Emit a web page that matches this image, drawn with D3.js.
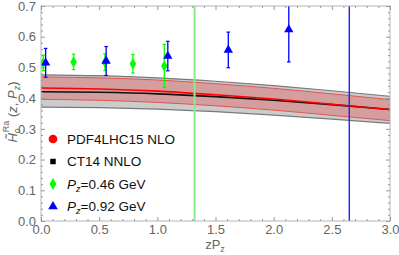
<html>
<head>
<script src="https://cdn.jsdelivr.net/npm/d3@7"></script>
<style>
  body { margin: 0; background: white; }
  text { font-family: "Liberation Sans", Arial, sans-serif; }
</style>
</head>
<body>
<div id="chart"></div>
<script>
// band curves, sampled along zP_z
var bandZ      = [0, 0.5, 1.0, 1.5, 2.0, 2.5, 3.0];
var ctCentral  = [0.421, 0.419, 0.414, 0.405, 0.393, 0.379, 0.363];
var ctHigh     = [0.476, 0.473, 0.466, 0.455, 0.441, 0.424, 0.406];
var ctLow      = [0.371, 0.369, 0.364, 0.356, 0.345, 0.332, 0.318];
var pdfCentral = [0.433, 0.430, 0.423, 0.411, 0.397, 0.380, 0.363];
var pdfHigh    = [0.469, 0.466, 0.459, 0.447, 0.432, 0.414, 0.395];
var pdfLow     = [0.396, 0.393, 0.386, 0.375, 0.361, 0.344, 0.327];

// lattice points
var p046Z   = [0.02, 0.28, 0.55, 0.79, 1.06];
var p046H   = [0.515, 0.518, 0.517, 0.512, 0.505];
var p046Err = [0.025, 0.025, 0.027, 0.03, 0.07];
var p092Z   = [0.04, 0.56, 1.09, 1.61, 2.13];
var p092H   = [0.515, 0.521, 0.537, 0.557, 0.623];
var p092Err = [0.047, 0.047, 0.048, 0.058, 0.105];

var vLines = [ { z: 1.32, color: "#86ee86", w: 2 }, { z: 2.65, color: "#1f1fff", w: 1.4 } ];

var xMajor = [0, 0.5, 1.0, 1.5, 2.0, 2.5, 3.0];
var yMajor = [0, 0.1, 0.2, 0.3, 0.4, 0.5, 0.6, 0.7];

var legendItems = [
	{ label: "PDF4LHC15 NLO", color: "#ff0000", shape: "circle" },
	{ label: "CT14 NNLO", color: "#000000", shape: "square" },
	{ label: "=0.46 GeV", color: "#00ff00", shape: "diamond", pz: true },
	{ label: "=0.92 GeV", color: "#0000ff", shape: "triangle", pz: true }
];

var W = 399, H = 255;
var m = { left: 41, right: 9, top: 6, bottom: 34 };

var svg = d3.select("#chart").append("svg")
	.attr("width", W).attr("height", H);

var x = d3.scaleLinear().domain([0, 3]).range([m.left, W - m.right]);
var y = d3.scaleLinear().domain([0, 0.7]).range([H - m.bottom, m.top]);

svg.append("clipPath").attr("id", "clip").append("rect")
	.attr("x", x(0)).attr("y", y(0.7))
	.attr("width", x(3) - x(0)).attr("height", y(0) - y(0.7));

var plot = svg.append("g").attr("clip-path", "url(#clip)");

var rows = bandZ.map(function(z, i) {
	return { z: z, cc: ctCentral[i], ch: ctHigh[i], cl: ctLow[i],
		pc: pdfCentral[i], ph: pdfHigh[i], pl: pdfLow[i] };
});

function area(lo, hi) {
	return d3.area().curve(d3.curveMonotoneX)
		.x(function(d) { return x(d.z); })
		.y0(function(d) { return y(d[lo]); })
		.y1(function(d) { return y(d[hi]); });
}
function line(k) {
	return d3.line().curve(d3.curveMonotoneX)
		.x(function(d) { return x(d.z); })
		.y(function(d) { return y(d[k]); });
}

// CT14 band
plot.append("path").datum(rows).attr("d", area("cl", "ch"))
	.attr("fill", "#cccccc");
["cl", "ch"].forEach(function(k) {
	plot.append("path").datum(rows).attr("d", line(k))
		.attr("fill", "none").attr("stroke", "#7a7a7a").attr("stroke-width", 1.2);
});
// PDF4LHC band
plot.append("path").datum(rows).attr("d", area("pl", "ph"))
	.attr("fill", "rgba(225,95,95,0.42)");
["pl", "ph"].forEach(function(k) {
	plot.append("path").datum(rows).attr("d", line(k))
		.attr("fill", "none").attr("stroke", "#e05555").attr("stroke-width", 1);
});
plot.append("path").datum(rows).attr("d", line("cc"))
	.attr("fill", "none").attr("stroke", "#111").attr("stroke-width", 1.6);
plot.append("path").datum(rows).attr("d", line("pc"))
	.attr("fill", "none").attr("stroke", "#ff0000").attr("stroke-width", 1.6);

// vertical lines
plot.selectAll(".vline").data(vLines).enter().append("line")
	.attr("x1", function(d) { return x(d.z); })
	.attr("x2", function(d) { return x(d.z); })
	.attr("y1", y(0)).attr("y2", y(0.7))
	.attr("stroke", function(d) { return d.color; })
	.attr("stroke-width", function(d) { return d.w; });

// error bars + markers
function drawSeries(zs, hs, errs, color, sym, size) {
	var data = zs.map(function(z, i) { return { z: z, h: hs[i], e: errs[i] }; });
	var g = plot.append("g");
	g.selectAll(".bar").data(data).enter().append("line")
		.attr("x1", function(d) { return x(d.z); })
		.attr("x2", function(d) { return x(d.z); })
		.attr("y1", function(d) { return y(d.h - d.e); })
		.attr("y2", function(d) { return y(d.h + d.e); })
		.attr("stroke", color).attr("stroke-width", 1.3);
	[-1, 1].forEach(function(s) {
		g.selectAll(".cap").data(data).enter().append("line")
			.attr("x1", function(d) { return x(d.z) - 1.8; })
			.attr("x2", function(d) { return x(d.z) + 1.8; })
			.attr("y1", function(d) { return y(d.h + s * d.e); })
			.attr("y2", function(d) { return y(d.h + s * d.e); })
			.attr("stroke", color).attr("stroke-width", 1.2);
	});
	g.selectAll(".pt").data(data).enter().append("path")
		.attr("transform", function(d) { return "translate(" + x(d.z) + "," + y(d.h) + ")"; })
		.attr("d", d3.symbol().type(sym).size(size))
		.attr("fill", color);
}
drawSeries(p046Z, p046H, p046Err, "#00ff00", d3.symbolDiamond, 38);
drawSeries(p092Z, p092H, p092Err, "#0000ff", d3.symbolTriangle, 38);

// frame
svg.append("rect")
	.attr("x", x(0)).attr("y", y(0.7))
	.attr("width", x(3) - x(0)).attr("height", y(0) - y(0.7))
	.attr("fill", "none").attr("stroke", "#b5b5b5").attr("stroke-width", 1);

var xMinor = d3.range(0, 3.001, 0.1).filter(function(v) { return Math.abs(v * 2 - Math.round(v * 2)) > 1e-6; });
var yMinor = d3.range(0, 0.7001, 0.02).filter(function(v) { return Math.abs(v * 10 - Math.round(v * 10)) > 1e-6; });

function styleAxis(g) {
	g.select(".domain").remove();
	g.selectAll(".tick line").attr("stroke", "#999");
	g.selectAll(".tick text").attr("fill", "#666").attr("font-size", 13);
}

svg.append("g").attr("transform", "translate(0," + y(0) + ")")
	.call(d3.axisBottom(x).tickValues(xMajor).tickSize(-4).tickPadding(4).tickFormat(d3.format(".1f")))
	.call(styleAxis);
svg.append("g").attr("transform", "translate(0," + y(0) + ")")
	.call(d3.axisBottom(x).tickValues(xMinor).tickSize(-2).tickFormat(""))
	.call(styleAxis);
svg.append("g").attr("transform", "translate(0," + y(0.7) + ")")
	.call(d3.axisTop(x).tickValues(xMajor).tickSize(-4).tickFormat(""))
	.call(styleAxis);
svg.append("g").attr("transform", "translate(0," + y(0.7) + ")")
	.call(d3.axisTop(x).tickValues(xMinor).tickSize(-2).tickFormat(""))
	.call(styleAxis);

svg.append("g").attr("transform", "translate(" + x(0) + ",0)")
	.call(d3.axisLeft(y).tickValues(yMajor).tickSize(-4).tickPadding(5).tickFormat(d3.format(".1f")))
	.call(styleAxis);
svg.append("g").attr("transform", "translate(" + x(0) + ",0)")
	.call(d3.axisLeft(y).tickValues(yMinor).tickSize(-2).tickFormat(""))
	.call(styleAxis);
svg.append("g").attr("transform", "translate(" + x(3) + ",0)")
	.call(d3.axisRight(y).tickValues(yMajor).tickSize(-4).tickFormat(""))
	.call(styleAxis);
svg.append("g").attr("transform", "translate(" + x(3) + ",0)")
	.call(d3.axisRight(y).tickValues(yMinor).tickSize(-2).tickFormat(""))
	.call(styleAxis);

// axis titles
var xt = svg.append("text").attr("x", 215).attr("y", 249)
	.attr("text-anchor", "middle").attr("fill", "#666").attr("font-size", 13);
xt.append("tspan").text("zP");
xt.append("tspan").attr("dy", 3).attr("font-size", 9).text("z");

var yt = svg.append("text")
	.attr("transform", "translate(17,112) rotate(-90)")
	.attr("text-anchor", "middle").attr("fill", "#666").attr("font-size", 13);
yt.append("tspan").attr("font-style", "italic").text("H\u0303");
yt.append("tspan").attr("dy", 3).attr("font-size", 9).text("o");
yt.append("tspan").attr("dy", -11).attr("dx", -4).attr("font-size", 9).text("Ra");
yt.append("tspan").attr("dy", 8).text(" (");
yt.append("tspan").attr("font-style", "italic").text("z");
yt.append("tspan").text(", ");
yt.append("tspan").attr("font-style", "italic").text("P");
yt.append("tspan").attr("dy", 3).attr("font-size", 9).attr("font-style", "italic").text("z");
yt.append("tspan").attr("dy", -3).text(")");

// legend
var symMap = { circle: d3.symbolCircle, square: d3.symbolSquare, diamond: d3.symbolDiamond, triangle: d3.symbolTriangle };
var sizeMap = { circle: 60, square: 30, diamond: 40, triangle: 40 };
var leg = svg.selectAll(".legend").data(legendItems).enter().append("g")
	.attr("transform", function(d, i) { return "translate(53," + (139 + i * 22.5) + ")"; });
leg.append("path")
	.attr("d", function(d) { return d3.symbol().type(symMap[d.shape]).size(sizeMap[d.shape])(); })
	.attr("fill", function(d) { return d.color; });
var lt = leg.append("text").attr("x", 14).attr("dy", "0.35em")
	.attr("font-size", 13.5).attr("fill", "#111");
lt.each(function(d) {
	var t = d3.select(this);
	if (d.pz) {
		t.append("tspan").attr("font-style", "italic").text("P");
		t.append("tspan").attr("dy", 3).attr("font-size", 9).attr("font-style", "italic").text("z");
		t.append("tspan").attr("dy", -3).text(d.label);
	} else {
		t.text(d.label);
	}
});
</script>
</body>
</html>
